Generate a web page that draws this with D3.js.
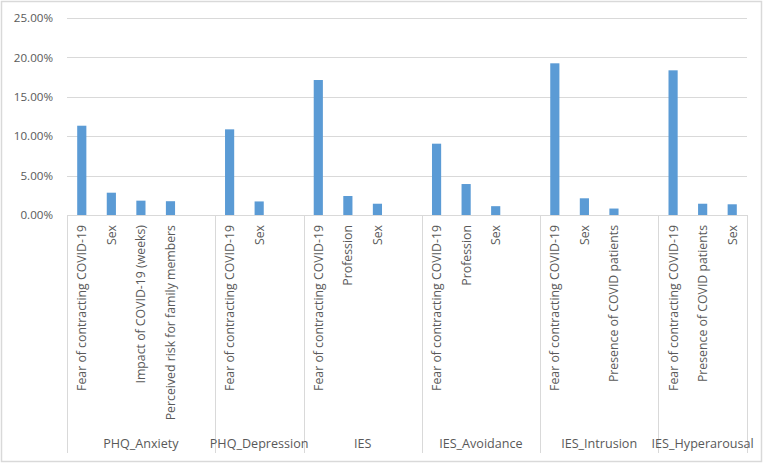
<!DOCTYPE html>
<html>
<head>
<meta charset="utf-8">
<script src="https://cdn.jsdelivr.net/npm/d3@7"></script>
<style>
  html, body { margin: 0; padding: 0; background: #fff; }
  svg { display: block; }
  text { font-family: "Open Sans", "Noto Sans", sans-serif; fill: #595959; }
</style>
</head>
<body>
<div id="chart"></div>
<script>
// data
const groups = ['PHQ_Anxiety', 'PHQ_Depression', 'IES', 'IES_Avoidance', 'IES_Intrusion', 'IES_Hyperarousal']

const factors = [
  ['Fear of contracting COVID-19', 'Sex', 'Impact of COVID-19 (weeks)', 'Perceived risk for family members'],
  ['Fear of contracting COVID-19', 'Sex'],
  ['Fear of contracting COVID-19', 'Profession', 'Sex'],
  ['Fear of contracting COVID-19', 'Profession', 'Sex'],
  ['Fear of contracting COVID-19', 'Sex', 'Presence of COVID patients'],
  ['Fear of contracting COVID-19', 'Presence of COVID patients', 'Sex']
]

const values = [
  [0.1133, 0.0283, 0.0182, 0.0175],
  [0.1087, 0.0172],
  [0.1713, 0.0241, 0.0143],
  [0.0905, 0.0393, 0.0112],
  [0.1925, 0.0212, 0.0082],
  [0.1836, 0.0143, 0.0136]
]

const yTicks = [0, 0.05, 0.10, 0.15, 0.20, 0.25]

const width = 765
const height = 463
const margin = { top: 18, right: 18, bottom: 248, left: 67 }

// one slot per factor, plus an empty slot closing every group but the last
const slots = []
groups.forEach((g, gi) => {
  factors[gi].forEach((f, fi) => {
    slots.push({ id: `${gi}-${fi}`, group: gi, label: f, value: values[gi][fi] })
  })
  if (gi < groups.length - 1) slots.push({ id: `${gi}-blank`, group: gi, label: '', value: null })
})

const x = d3.scaleBand()
  .domain(slots.map((d) => d.id))
  .range([margin.left, width - margin.right])
  .padding(0)

const y = d3.scaleLinear()
  .domain([0, 0.25])
  .range([height - margin.bottom, margin.top])

const svg = d3.select('#chart')
  .append('svg')
  .attr('width', width)
  .attr('height', height)

// chart border
svg.append('rect')
  .attr('x', 1.5)
  .attr('y', 1.5)
  .attr('width', width - 5)
  .attr('height', height - 3)
  .attr('fill', '#fff')
  .attr('stroke', '#d9d9d9')
  .attr('stroke-width', 1.5)

// gridlines
svg.append('g')
  .selectAll('line')
  .data(yTicks)
  .enter()
  .append('line')
  .attr('x1', margin.left)
  .attr('x2', width - margin.right)
  .attr('y1', (d) => Math.round(y(d)) + 0.5)
  .attr('y2', (d) => Math.round(y(d)) + 0.5)
  .attr('stroke', '#d9d9d9')
  .attr('stroke-width', 1)

// y axis labels
const yAxis = d3.axisLeft(y)
  .tickValues(yTicks)
  .tickSize(0)
  .tickPadding(14)
  .tickFormat(d3.format('.2%'))

svg.append('g')
  .attr('transform', `translate(${margin.left},0)`)
  .call(yAxis)
  .call((g) => g.select('.domain').remove())
  .call((g) => g.selectAll('text')
    .attr('font-size', 11.6)
    .attr('font-family', '"Open Sans", sans-serif')
    .attr('fill', '#595959'))

// bars
const barWidth = x.bandwidth() * 0.31
svg.append('g')
  .selectAll('rect')
  .data(slots.filter((d) => d.value !== null))
  .enter()
  .append('rect')
  .attr('x', (d) => x(d.id) + (x.bandwidth() - barWidth) / 2)
  .attr('y', (d) => y(d.value))
  .attr('width', barWidth)
  .attr('height', (d) => y(0) - y(d.value))
  .attr('fill', '#5b9bd5')

// group separators
const groupBounds = groups.map((g, gi) => {
  const ids = slots.filter((d) => d.group === gi).map((d) => d.id)
  return { name: g, x0: x(ids[0]), x1: x(ids[ids.length - 1]) + x.bandwidth() }
})
const bounds = [groupBounds[0].x0].concat(groupBounds.map((d) => d.x1))

svg.append('g')
  .selectAll('line')
  .data(bounds)
  .enter()
  .append('line')
  .attr('x1', (d) => Math.round(d) + 0.5)
  .attr('x2', (d) => Math.round(d) + 0.5)
  .attr('y1', y(0))
  .attr('y2', 453)
  .attr('stroke', '#d9d9d9')
  .attr('stroke-width', 1)

// category labels (rotated)
svg.append('g')
  .selectAll('text')
  .data(slots.filter((d) => d.label))
  .enter()
  .append('text')
  .attr('transform', (d) => `translate(${x(d.id) + x.bandwidth() / 2 + 4.5},${y(0) + 10}) rotate(-90)`)
  .attr('text-anchor', 'end')
  .attr('font-size', 12.3)
  .text((d) => d.label)

// group labels
svg.append('g')
  .selectAll('text')
  .data(groupBounds)
  .enter()
  .append('text')
  .attr('x', (d) => (d.x0 + d.x1) / 2)
  .attr('y', 448)
  .attr('text-anchor', 'middle')
  .attr('font-size', 12.6)
  .text((d) => d.name)
</script>
</body>
</html>
